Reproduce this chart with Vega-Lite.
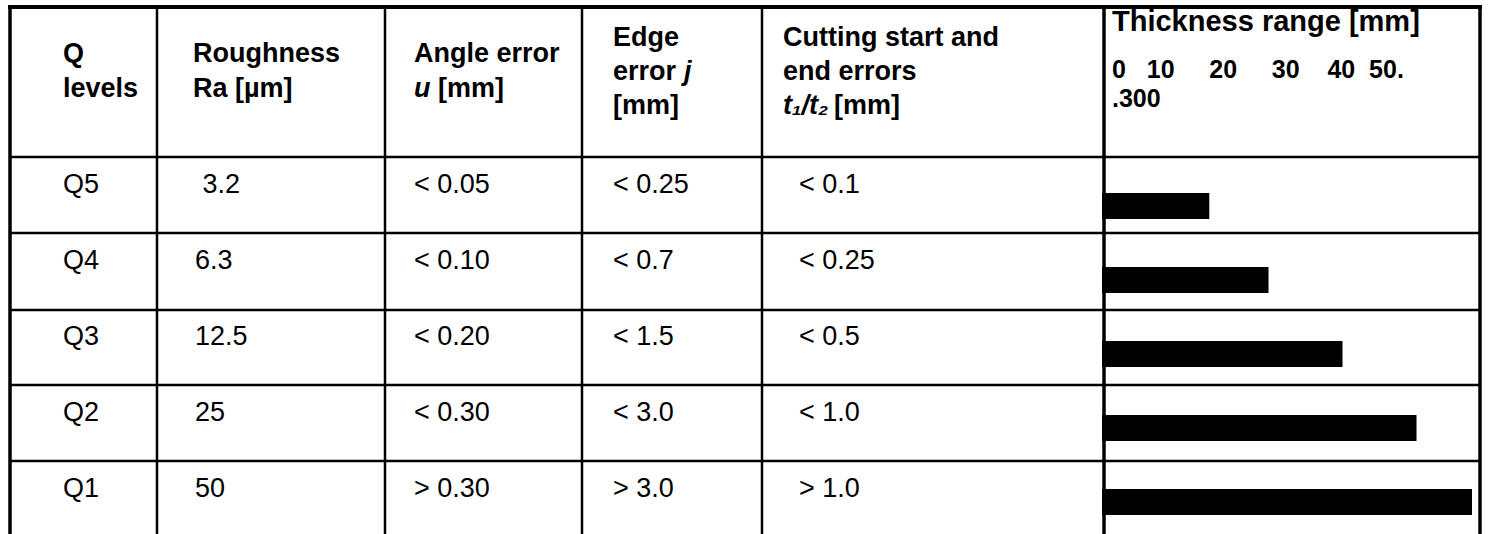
{
  "$schema": "https://vega.github.io/schema/vega-lite/v6.json",
  "width": 1470,
  "height": 527,
  "autosize": {"type": "none"},
  "padding": {"left": 10, "top": 7, "right": 9, "bottom": 0},
  "background": "white",
  "config": {"view": {"stroke": null}, "font": "Liberation Sans"},
  "datasets": {
    "levels": [
      {"level": "Q5", "thickness": 29},
      {"level": "Q4", "thickness": 45},
      {"level": "Q3", "thickness": 65},
      {"level": "Q2", "thickness": 85},
      {"level": "Q1", "thickness": 100}
    ],
    "cells": [
      {"level": "Q5", "col": 1, "text": "Q5"},
      {"level": "Q5", "col": 2, "text": "\u200b\u00a03.2"},
      {"level": "Q5", "col": 3, "text": "< 0.05"},
      {"level": "Q5", "col": 4, "text": "< 0.25"},
      {"level": "Q5", "col": 5, "text": "< 0.1"},
      {"level": "Q4", "col": 1, "text": "Q4"},
      {"level": "Q4", "col": 2, "text": "6.3"},
      {"level": "Q4", "col": 3, "text": "< 0.10"},
      {"level": "Q4", "col": 4, "text": "< 0.7"},
      {"level": "Q4", "col": 5, "text": "< 0.25"},
      {"level": "Q3", "col": 1, "text": "Q3"},
      {"level": "Q3", "col": 2, "text": "12.5"},
      {"level": "Q3", "col": 3, "text": "< 0.20"},
      {"level": "Q3", "col": 4, "text": "< 1.5"},
      {"level": "Q3", "col": 5, "text": "< 0.5"},
      {"level": "Q2", "col": 1, "text": "Q2"},
      {"level": "Q2", "col": 2, "text": "25"},
      {"level": "Q2", "col": 3, "text": "< 0.30"},
      {"level": "Q2", "col": 4, "text": "< 3.0"},
      {"level": "Q2", "col": 5, "text": "< 1.0"},
      {"level": "Q1", "col": 1, "text": "Q1"},
      {"level": "Q1", "col": 2, "text": "50"},
      {"level": "Q1", "col": 3, "text": "> 0.30"},
      {"level": "Q1", "col": 4, "text": "> 3.0"},
      {"level": "Q1", "col": 5, "text": "> 1.0"}
    ],
    "head2": [
      {"col": 1, "line": 1, "text": "Q"},
      {"col": 1, "line": 2, "text": "levels"},
      {"col": 2, "line": 1, "text": "Roughness"},
      {"col": 2, "line": 2, "text": "Ra [µm]"},
      {"col": 3, "line": 1, "text": "Angle error"}
    ],
    "head2Italic": [
      {"col": 3, "line": 2, "text": "u"}
    ],
    "head2AfterItalic": [
      {"col": 3, "line": 2, "text": "[mm]"}
    ],
    "head3": [
      {"col": 4, "line": 1, "text": "Edge"},
      {"col": 4, "line": 2, "text": "error"},
      {"col": 4, "line": 3, "text": "[mm]"},
      {"col": 5, "line": 1, "text": "Cutting start and"},
      {"col": 5, "line": 2, "text": "end errors"}
    ],
    "head3Italic": [
      {"col": 5, "line": 3, "text": "t₁/t₂"}
    ],
    "head3ItalicInline": [
      {"col": 4, "line": 2, "text": "j"}
    ],
    "head3AfterItalic": [
      {"col": 5, "line": 3, "text": "[mm]"}
    ],
    "thicknessTitle": [
      {"col": 6, "text": "Thickness range [mm]"}
    ],
    "thicknessTicks": [
      {"col": 6, "text": "0\u00a0\u00a0\u00a010\u00a0\u00a0\u00a0\u00a0\u00a020\u00a0\u00a0\u00a0\u00a0\u00a030\u00a0\u00a0\u00a0\u00a040\u00a0\u00a050.\n.300"}
    ],
    "vInner": [{"b": 1}, {"b": 2}, {"b": 3}, {"b": 4}],
    "vOuter": [{"b": 0}, {"b": 5}, {"b": 6}],
    "hInner": [{"b": 1}, {"b": 2}, {"b": 3}, {"b": 4}, {"b": 5}],
    "hOuter": [{"b": 0}]
  },
  "layer": [
    {
      "data": {"name": "levels"},
      "mark": {"type": "bar", "color": "black"},
      "encoding": {
        "x": {"field": "thickness", "type": "quantitative", "scale": {"domain": [0, 100], "range": [1092, 1462], "zero": true, "nice": false}, "axis": null},
        "y": {"field": "level", "type": "nominal", "scale": {"type": "band", "domain": ["Q5", "Q4", "Q3", "Q2", "Q1"], "range": [162, 532], "paddingInner": 0.65, "paddingOuter": 0.325}, "axis": null}
      }
    },
    {
      "data": {"name": "vInner"},
      "mark": {"type": "rule", "color": "black", "strokeWidth": 2.5},
      "encoding": {
        "x": {"field": "b", "type": "quantitative", "scale": {"domain": [0, 1, 2, 3, 4, 5, 6], "range": [0, 147, 375, 572, 752, 1094, 1470], "zero": false, "nice": false}, "axis": null}
      }
    },
    {
      "data": {"name": "vOuter"},
      "mark": {"type": "rule", "color": "black", "strokeWidth": 3.5, "strokeCap": "square"},
      "encoding": {
        "x": {"field": "b", "type": "quantitative", "scale": {"domain": [0, 1, 2, 3, 4, 5, 6], "range": [0, 147, 375, 572, 752, 1094, 1470], "zero": false, "nice": false}, "axis": null}
      }
    },
    {
      "data": {"name": "hInner"},
      "mark": {"type": "rule", "color": "black", "strokeWidth": 2.5},
      "encoding": {
        "y": {"field": "b", "type": "quantitative", "scale": {"domain": [0, 1, 2, 3, 4, 5], "range": [0, 150, 226, 303, 378, 454], "zero": false, "nice": false}, "axis": null}
      }
    },
    {
      "data": {"name": "hOuter"},
      "mark": {"type": "rule", "color": "black", "strokeWidth": 4, "strokeCap": "square"},
      "encoding": {
        "y": {"field": "b", "type": "quantitative", "scale": {"domain": [0, 1, 2, 3, 4, 5], "range": [0, 150, 226, 303, 378, 454], "zero": false, "nice": false}, "axis": null}
      }
    },
    {
      "data": {"name": "cells"},
      "mark": {"type": "text", "align": "left", "baseline": "middle", "fontSize": 27, "color": "black"},
      "encoding": {
        "x": {"field": "col", "type": "quantitative", "scale": {"domain": [1, 2, 3, 4, 5], "range": [53, 185, 404, 603, 789], "zero": false, "nice": false}, "axis": null},
        "y": {"field": "level", "type": "nominal", "scale": {"type": "point", "domain": ["Q5", "Q4", "Q3", "Q2", "Q1"], "range": [178, 482], "padding": 0}, "axis": null},
        "text": {"field": "text"}
      }
    },
    {
      "data": {"name": "head2"},
      "mark": {"type": "text", "align": "left", "baseline": "middle", "fontSize": 27, "fontWeight": "bold", "color": "black"},
      "encoding": {
        "x": {"field": "col", "type": "quantitative", "scale": {"domain": [1, 2, 3, 4, 5], "range": [53, 183, 404, 603, 773], "zero": false, "nice": false}, "axis": null},
        "y": {"field": "line", "type": "ordinal", "scale": {"type": "point", "domain": [1, 2], "range": [47, 82], "padding": 0}, "axis": null},
        "text": {"field": "text"}
      }
    },
    {
      "data": {"name": "head2Italic"},
      "mark": {"type": "text", "align": "left", "baseline": "middle", "fontSize": 27, "fontWeight": "bold", "fontStyle": "italic", "color": "black"},
      "encoding": {
        "x": {"field": "col", "type": "quantitative", "scale": {"domain": [1, 2, 3, 4, 5], "range": [53, 183, 404, 603, 773], "zero": false, "nice": false}, "axis": null},
        "y": {"field": "line", "type": "ordinal", "scale": {"type": "point", "domain": [1, 2], "range": [47, 82], "padding": 0}, "axis": null},
        "text": {"field": "text"}
      }
    },
    {
      "data": {"name": "head2AfterItalic"},
      "mark": {"type": "text", "align": "left", "baseline": "middle", "fontSize": 27, "fontWeight": "bold", "dx": 24, "color": "black"},
      "encoding": {
        "x": {"field": "col", "type": "quantitative", "scale": {"domain": [1, 2, 3, 4, 5], "range": [53, 183, 404, 603, 773], "zero": false, "nice": false}, "axis": null},
        "y": {"field": "line", "type": "ordinal", "scale": {"type": "point", "domain": [1, 2], "range": [47, 82], "padding": 0}, "axis": null},
        "text": {"field": "text"}
      }
    },
    {
      "data": {"name": "head3"},
      "mark": {"type": "text", "align": "left", "baseline": "middle", "fontSize": 27, "fontWeight": "bold", "color": "black"},
      "encoding": {
        "x": {"field": "col", "type": "quantitative", "scale": {"domain": [1, 2, 3, 4, 5], "range": [53, 183, 404, 603, 773], "zero": false, "nice": false}, "axis": null},
        "y": {"field": "line", "type": "ordinal", "scale": {"type": "point", "domain": [1, 2, 3], "range": [31, 99], "padding": 0}, "axis": null},
        "text": {"field": "text"}
      }
    },
    {
      "data": {"name": "head3Italic"},
      "mark": {"type": "text", "align": "left", "baseline": "middle", "fontSize": 27, "fontWeight": "bold", "fontStyle": "italic", "color": "black"},
      "encoding": {
        "x": {"field": "col", "type": "quantitative", "scale": {"domain": [1, 2, 3, 4, 5], "range": [53, 183, 404, 603, 773], "zero": false, "nice": false}, "axis": null},
        "y": {"field": "line", "type": "ordinal", "scale": {"type": "point", "domain": [1, 2, 3], "range": [31, 99], "padding": 0}, "axis": null},
        "text": {"field": "text"}
      }
    },
    {
      "data": {"name": "head3ItalicInline"},
      "mark": {"type": "text", "align": "left", "baseline": "middle", "fontSize": 27, "fontWeight": "bold", "fontStyle": "italic", "dx": 71, "color": "black"},
      "encoding": {
        "x": {"field": "col", "type": "quantitative", "scale": {"domain": [1, 2, 3, 4, 5], "range": [53, 183, 404, 603, 773], "zero": false, "nice": false}, "axis": null},
        "y": {"field": "line", "type": "ordinal", "scale": {"type": "point", "domain": [1, 2, 3], "range": [31, 99], "padding": 0}, "axis": null},
        "text": {"field": "text"}
      }
    },
    {
      "data": {"name": "head3AfterItalic"},
      "mark": {"type": "text", "align": "left", "baseline": "middle", "fontSize": 27, "fontWeight": "bold", "dx": 51, "color": "black"},
      "encoding": {
        "x": {"field": "col", "type": "quantitative", "scale": {"domain": [1, 2, 3, 4, 5], "range": [53, 183, 404, 603, 773], "zero": false, "nice": false}, "axis": null},
        "y": {"field": "line", "type": "ordinal", "scale": {"type": "point", "domain": [1, 2, 3], "range": [31, 99], "padding": 0}, "axis": null},
        "text": {"field": "text"}
      }
    },
    {
      "data": {"name": "thicknessTitle"},
      "mark": {"type": "text", "align": "left", "baseline": "middle", "fontSize": 29, "fontWeight": "bold", "color": "black"},
      "encoding": {
        "x": {"field": "col", "type": "quantitative", "scale": {"domain": [5, 6], "range": [773, 1102], "zero": false, "nice": false}, "axis": null},
        "y": {"field": "col", "type": "ordinal", "scale": {"type": "point", "domain": [6], "range": [15, 15]}, "axis": null},
        "text": {"field": "text"}
      }
    },
    {
      "data": {"name": "thicknessTicks"},
      "mark": {"type": "text", "align": "left", "baseline": "middle", "fontSize": 25, "fontWeight": "bold", "lineBreak": "\n", "lineHeight": 29, "color": "black"},
      "encoding": {
        "x": {"field": "col", "type": "quantitative", "scale": {"domain": [5, 6], "range": [773, 1102], "zero": false, "nice": false}, "axis": null},
        "y": {"field": "col", "type": "ordinal", "scale": {"type": "point", "domain": [6], "range": [63, 63]}, "axis": null},
        "text": {"field": "text"}
      }
    }
  ],
  "resolve": {"scale": {"x": "independent", "y": "independent"}}
}
